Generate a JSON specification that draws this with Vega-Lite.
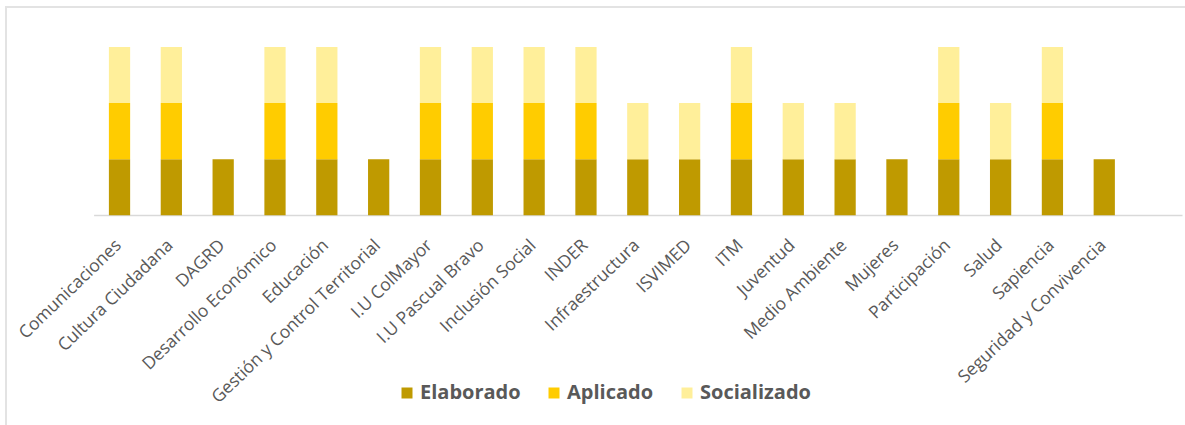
{
  "$schema": "https://vega.github.io/schema/vega-lite/v6.json",
  "autosize": {"type": "none"},
  "padding": {"left": 6, "top": 7, "right": 0, "bottom": 0},
  "width": 1182,
  "height": 420,
  "background": "#ffffff",
  "config": {
    "view": {"stroke": "#e3e3e3", "strokeWidth": 2},
    "font": "Open Sans"
  },
  "data": {
    "values": [
      {"entidad": "Comunicaciones", "estado": "Elaborado", "orden": 1, "valor": 1},
      {"entidad": "Comunicaciones", "estado": "Aplicado", "orden": 2, "valor": 1},
      {"entidad": "Comunicaciones", "estado": "Socializado", "orden": 3, "valor": 1},
      {"entidad": "Cultura Ciudadana", "estado": "Elaborado", "orden": 1, "valor": 1},
      {"entidad": "Cultura Ciudadana", "estado": "Aplicado", "orden": 2, "valor": 1},
      {"entidad": "Cultura Ciudadana", "estado": "Socializado", "orden": 3, "valor": 1},
      {"entidad": "DAGRD", "estado": "Elaborado", "orden": 1, "valor": 1},
      {"entidad": "Desarrollo Económico", "estado": "Elaborado", "orden": 1, "valor": 1},
      {"entidad": "Desarrollo Económico", "estado": "Aplicado", "orden": 2, "valor": 1},
      {"entidad": "Desarrollo Económico", "estado": "Socializado", "orden": 3, "valor": 1},
      {"entidad": "Educación", "estado": "Elaborado", "orden": 1, "valor": 1},
      {"entidad": "Educación", "estado": "Aplicado", "orden": 2, "valor": 1},
      {"entidad": "Educación", "estado": "Socializado", "orden": 3, "valor": 1},
      {"entidad": "Gestión y Control Territorial", "estado": "Elaborado", "orden": 1, "valor": 1},
      {"entidad": "I.U ColMayor", "estado": "Elaborado", "orden": 1, "valor": 1},
      {"entidad": "I.U ColMayor", "estado": "Aplicado", "orden": 2, "valor": 1},
      {"entidad": "I.U ColMayor", "estado": "Socializado", "orden": 3, "valor": 1},
      {"entidad": "I.U Pascual Bravo", "estado": "Elaborado", "orden": 1, "valor": 1},
      {"entidad": "I.U Pascual Bravo", "estado": "Aplicado", "orden": 2, "valor": 1},
      {"entidad": "I.U Pascual Bravo", "estado": "Socializado", "orden": 3, "valor": 1},
      {"entidad": "Inclusión Social", "estado": "Elaborado", "orden": 1, "valor": 1},
      {"entidad": "Inclusión Social", "estado": "Aplicado", "orden": 2, "valor": 1},
      {"entidad": "Inclusión Social", "estado": "Socializado", "orden": 3, "valor": 1},
      {"entidad": "INDER", "estado": "Elaborado", "orden": 1, "valor": 1},
      {"entidad": "INDER", "estado": "Aplicado", "orden": 2, "valor": 1},
      {"entidad": "INDER", "estado": "Socializado", "orden": 3, "valor": 1},
      {"entidad": "Infraestructura", "estado": "Elaborado", "orden": 1, "valor": 1},
      {"entidad": "Infraestructura", "estado": "Socializado", "orden": 3, "valor": 1},
      {"entidad": "ISVIMED", "estado": "Elaborado", "orden": 1, "valor": 1},
      {"entidad": "ISVIMED", "estado": "Socializado", "orden": 3, "valor": 1},
      {"entidad": "ITM", "estado": "Elaborado", "orden": 1, "valor": 1},
      {"entidad": "ITM", "estado": "Aplicado", "orden": 2, "valor": 1},
      {"entidad": "ITM", "estado": "Socializado", "orden": 3, "valor": 1},
      {"entidad": "Juventud", "estado": "Elaborado", "orden": 1, "valor": 1},
      {"entidad": "Juventud", "estado": "Socializado", "orden": 3, "valor": 1},
      {"entidad": "Medio Ambiente", "estado": "Elaborado", "orden": 1, "valor": 1},
      {"entidad": "Medio Ambiente", "estado": "Socializado", "orden": 3, "valor": 1},
      {"entidad": "Mujeres", "estado": "Elaborado", "orden": 1, "valor": 1},
      {"entidad": "Participación", "estado": "Elaborado", "orden": 1, "valor": 1},
      {"entidad": "Participación", "estado": "Aplicado", "orden": 2, "valor": 1},
      {"entidad": "Participación", "estado": "Socializado", "orden": 3, "valor": 1},
      {"entidad": "Salud", "estado": "Elaborado", "orden": 1, "valor": 1},
      {"entidad": "Salud", "estado": "Socializado", "orden": 3, "valor": 1},
      {"entidad": "Sapiencia", "estado": "Elaborado", "orden": 1, "valor": 1},
      {"entidad": "Sapiencia", "estado": "Aplicado", "orden": 2, "valor": 1},
      {"entidad": "Sapiencia", "estado": "Socializado", "orden": 3, "valor": 1},
      {"entidad": "Seguridad y Convivencia", "estado": "Elaborado", "orden": 1, "valor": 1}
    ]
  },
  "mark": {"type": "bar"},
  "encoding": {
    "x": {
      "field": "entidad",
      "type": "nominal",
      "sort": null,
      "scale": {
        "domain": ["Comunicaciones", "Cultura Ciudadana", "DAGRD", "Desarrollo Económico", "Educación", "Gestión y Control Territorial", "I.U ColMayor", "I.U Pascual Bravo", "Inclusión Social", "INDER", "Infraestructura", "ISVIMED", "ITM", "Juventud", "Medio Ambiente", "Mujeres", "Participación", "Salud", "Sapiencia", "Seguridad y Convivencia", " "],
        "range": [87.6, 1176],
        "paddingInner": 0.59,
        "paddingOuter": 0.295
      },
      "axis": {
        "title": null,
        "orient": "bottom",
        "offset": -212,
        "ticks": false,
        "grid": false,
        "domainColor": "#d9d9d9",
        "domainWidth": 1.5,
        "labelAngle": -44,
        "labelFont": "Open Sans",
        "labelFontSize": 17.5,
        "labelColor": "#595959",
        "labelPadding": 21,
        "labelOffset": -7,
        "labelLimit": 0,
        "labelOverlap": false,
        "labelBound": false,
        "labelFlush": false
      }
    },
    "y": {
      "field": "valor",
      "type": "quantitative",
      "aggregate": "sum",
      "stack": "zero",
      "scale": {"domain": [0, 3], "range": [208.3, 40], "nice": false, "zero": true},
      "axis": null
    },
    "order": {"field": "orden", "type": "quantitative", "sort": "ascending"},
    "color": {
      "field": "estado",
      "type": "nominal",
      "scale": {
        "domain": ["Elaborado", "Aplicado", "Socializado"],
        "range": ["#BF9A00", "#FFCC00", "#FFEF9A"]
      },
      "legend": {
        "title": null,
        "orient": "none",
        "direction": "horizontal",
        "legendX": 391,
        "legendY": 376,
        "symbolType": "square",
        "symbolSize": 121,
        "symbolStrokeWidth": 0,
        "labelFont": "Open Sans",
        "labelFontSize": 20,
        "labelFontWeight": "bold",
        "labelColor": "#595959",
        "labelOffset": 3,
        "columnPadding": 23
      }
    }
  }
}
